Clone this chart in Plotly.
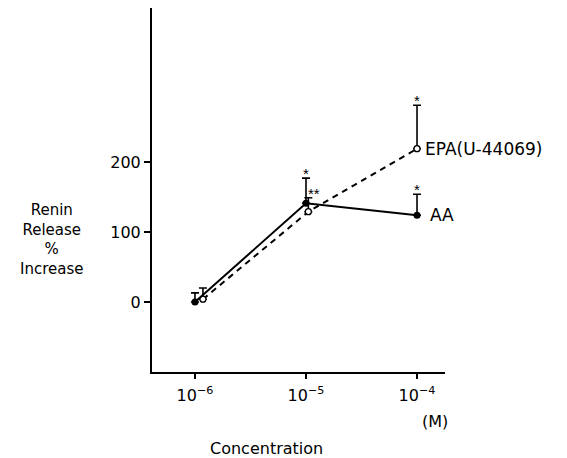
import plotly.graph_objects as go
import numpy as np

# Data
aa_conc = [1e-6, 1e-5, 1e-4]
aa_values = [0, 141, 124]
aa_err = [13, 36, 30]

epa_conc = [1.18e-6, 1.05e-5, 1e-4]
epa_values = [4, 129, 219]
epa_err = [16, 20, 62]

x_tick_vals = [1e-6, 1e-5, 1e-4]
x_tick_text = ["10<sup>−6</sup>", "10<sup>−5</sup>", "10<sup>−4</sup>"]
y_tick_vals = [0, 100, 200]

# significance marks: (series x, y top of error bar, text)
stars_x = [aa_conc[1], epa_conc[1], epa_conc[2], aa_conc[2]]
stars_y = [aa_values[1] + aa_err[1], epa_values[1] + epa_err[1],
           epa_values[2] + epa_err[2], aa_values[2] + aa_err[2]]
stars_text = ["*", "**", "*", "*"]

FONT = "DejaVu Sans"

fig = go.Figure()
fig.add_trace(go.Scatter(
    x=epa_conc, y=epa_values, mode="lines+markers",
    line=dict(color="black", width=2, dash="6px,5px"),
    marker=dict(symbol="circle", size=6, color="white",
                line=dict(color="black", width=1.3)),
    error_y=dict(type="data", symmetric=False, array=epa_err,
                 arrayminus=[0, 0, 0], color="black", thickness=1.6, width=4),
    showlegend=False,
))
fig.add_trace(go.Scatter(
    x=aa_conc, y=aa_values, mode="lines+markers",
    line=dict(color="black", width=2),
    marker=dict(symbol="circle", size=7, color="black"),
    error_y=dict(type="data", symmetric=False, array=aa_err,
                 arrayminus=[0, 0, 0], color="black", thickness=1.6, width=4),
    showlegend=False,
))

annotations = []
for sx, sy, st in zip(stars_x, stars_y, stars_text):
    annotations.append(dict(
        x=np.log10(sx), y=sy, xref="x", yref="y", text=st, showarrow=False,
        xanchor="center", yanchor="bottom", yshift=-6,
        xshift=6 if st == "**" else 0,
        font=dict(family="Liberation Sans", size=15, color="black")))

annotations.append(dict(x=np.log10(epa_conc[2]), y=epa_values[2], xref="x", yref="y",
                        text="EPA(U-44069)", showarrow=False, xanchor="left",
                        xshift=6, font=dict(family=FONT, size=17, color="black")))
annotations.append(dict(x=np.log10(aa_conc[2]), y=aa_values[2], xref="x", yref="y",
                        text="AA", showarrow=False, xanchor="left",
                        xshift=11, font=dict(family=FONT, size=17, color="black")))
annotations.append(dict(x=(435 - 152) / 293, y=(372 - 421) / 364, xref="paper", yref="paper",
                        text="(M)", showarrow=False, xanchor="center", yanchor="middle",
                        font=dict(family=FONT, size=16, color="black")))
annotations.append(dict(x=(266 - 152) / 293, y=(372 - 448) / 364, xref="paper", yref="paper",
                        text="Concentration", showarrow=False, xanchor="center", yanchor="middle",
                        font=dict(family=FONT, size=16, color="black")))
annotations.append(dict(x=(52 - 152) / 293, y=(372 - 240) / 364, xref="paper", yref="paper",
                        text="Renin<br>Release<br>%<br>Increase", showarrow=False,
                        xanchor="center", yanchor="middle", align="center",
                        font=dict(family=FONT, size=15, color="black")))

fig.update_layout(
    width=567, height=458,
    margin=dict(l=152, r=122, t=8, b=86),
    paper_bgcolor="white", plot_bgcolor="white",
    annotations=annotations,
    xaxis=dict(type="log", range=[-6.387, -3.748], tickvals=x_tick_vals,
               ticktext=x_tick_text, showgrid=False, zeroline=False,
               showline=True, linecolor="black", linewidth=2,
               ticks="outside", ticklen=5, tickwidth=1.5, tickcolor="black",
               ticklabelstandoff=3,
               tickfont=dict(family=FONT, size=16, color="black")),
    yaxis=dict(range=[-100, 420], tickvals=y_tick_vals, showgrid=False,
               zeroline=False, showline=True, linecolor="black", linewidth=2,
               ticks="outside", ticklen=6, tickwidth=1.5, tickcolor="black",
               tickfont=dict(family=FONT, size=16, color="black")),
)

fig.write_html("out.html")
